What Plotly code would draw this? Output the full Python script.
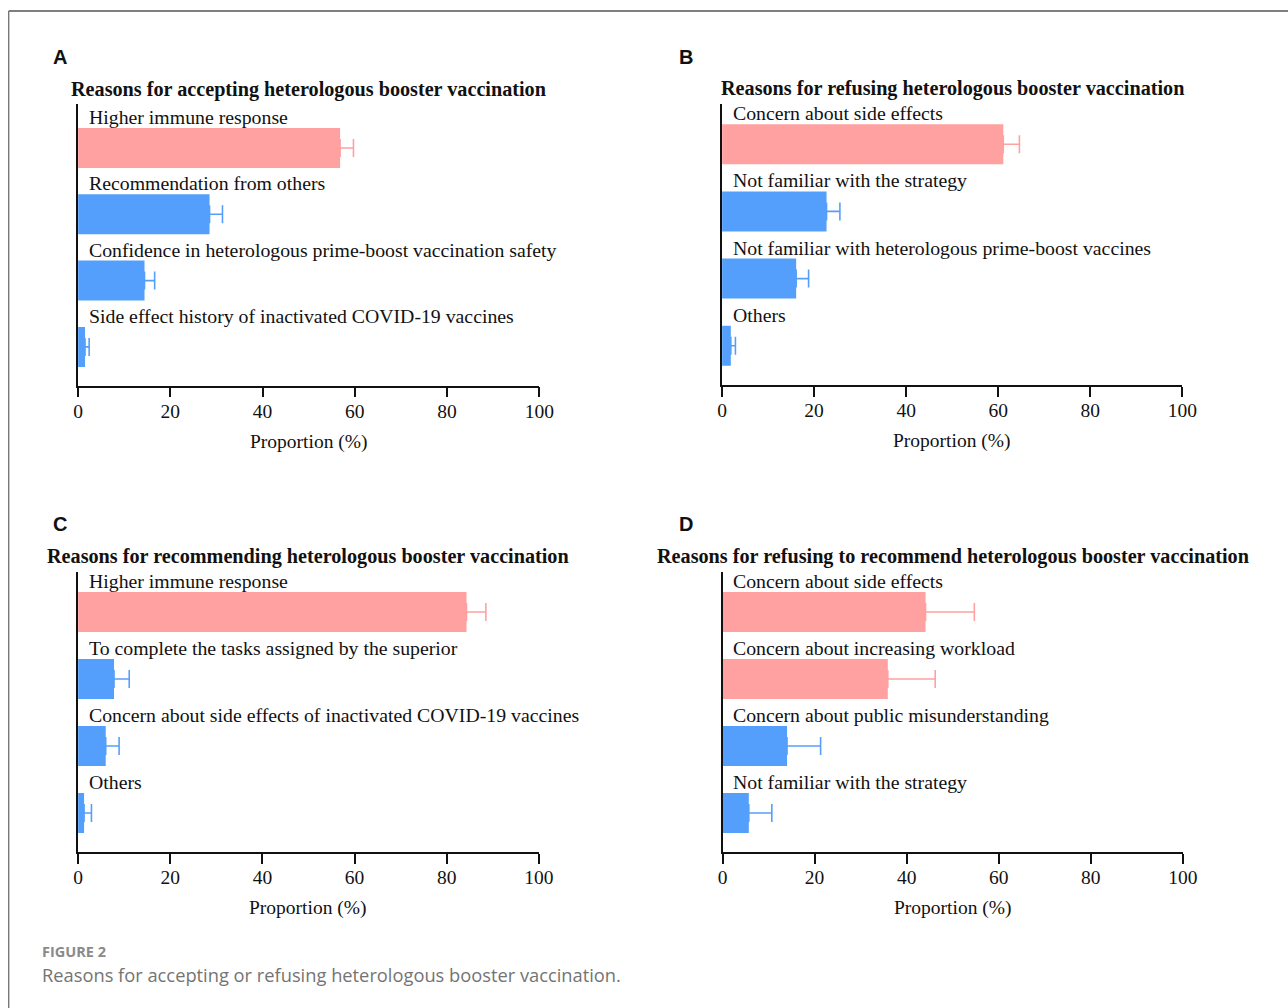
import plotly.graph_objects as go

# ---------------------------------------------------------------- data
a_labels = [
    "Higher immune response",
    "Recommendation from others",
    "Confidence in heterologous prime-boost vaccination safety",
    "Side effect history of inactivated COVID-19 vaccines",
]
a_values = [56.8, 28.5, 14.4, 1.5]
a_errors = [2.9, 2.8, 2.2, 0.9]

b_labels = [
    "Concern about side effects",
    "Not familiar with the strategy",
    "Not familiar with heterologous prime-boost vaccines",
    "Others",
]
b_values = [61.1, 22.7, 16.1, 1.9]
b_errors = [3.5, 2.9, 2.7, 1.0]

c_labels = [
    "Higher immune response",
    "To complete the tasks assigned by the superior",
    "Concern about side effects of inactivated COVID-19 vaccines",
    "Others",
]
c_values = [84.3, 7.8, 6.0, 1.3]
c_errors = [4.2, 3.3, 2.9, 1.6]

d_labels = [
    "Concern about side effects",
    "Concern about increasing workload",
    "Concern about public misunderstanding",
    "Not familiar with the strategy",
]
d_values = [44.1, 35.9, 14.0, 5.7]
d_errors = [10.6, 10.3, 7.3, 5.0]

panel_titles = [
    "Reasons for accepting heterologous booster vaccination",
    "Reasons for refusing heterologous booster vaccination",
    "Reasons for recommending heterologous booster vaccination",
    "Reasons for refusing to recommend heterologous booster vaccination",
]
panel_letters = ["A", "B", "C", "D"]
x_ticks = [0, 20, 40, 60, 80, 100]
x_title = "Proportion (%)"
caption_head = "FIGURE 2"
caption_text = "Reasons for accepting or refusing heterologous booster vaccination."

# ---------------------------------------------------------------- style
W, H = 1288, 1008
X_OFF, X_SPAN = 4.3, 1270.0   # horizontal pixel calibration of the paper
PINK = "#FFA1A1"
BLUE = "#559FFC"
SERIF = "Liberation Serif, Times New Roman, serif"
SANS = "Liberation Sans, Arial, sans-serif"
CAPTION_FONT = "Open Sans, Lato, sans-serif"


def px(x):
    return (x - X_OFF) / X_SPAN


def py(y):
    return 1 - y / H


# geometry of each panel in pixels: plot box, first bar centre, bar pitch,
# number of highlighted (pink) bars, title / letter rows
panels = [
    dict(labels=a_labels, values=a_values, errors=a_errors, n_hi=1,
         x0=77.5, x1=539.5, ytop=104, ybot=385.5, c0=148.0, step=66.3,
         title_y=89, letter=(59, 57)),
    dict(labels=b_labels, values=b_values, errors=b_errors, n_hi=1,
         x0=722.5, x1=1183.5, ytop=104, ybot=385.0, c0=144.2, step=67.2,
         title_y=88, letter=(686, 57)),
    dict(labels=c_labels, values=c_values, errors=c_errors, n_hi=1,
         x0=77.5, x1=539.0, ytop=572, ybot=852.0, c0=612.0, step=67.0,
         title_y=556, letter=(59, 524)),
    dict(labels=d_labels, values=d_values, errors=d_errors, n_hi=2,
         x0=723.0, x1=1184.0, ytop=572, ybot=852.0, c0=612.0, step=67.0,
         title_y=556, letter=(686, 524)),
]

fig = go.Figure()
annotations = []
shapes = []

for k, p in enumerate(panels, start=1):
    xa = "x" if k == 1 else f"x{k}"
    ya = "y" if k == 1 else f"y{k}"
    pos = list(range(len(p["values"])))
    bar_w = 40.0 / p["step"]

    groups = [
        (pos[:p["n_hi"]], PINK),
        (pos[p["n_hi"]:], BLUE),
    ]
    for idx, col in groups:
        if not idx:
            continue
        fig.add_trace(go.Bar(
            x=[p["values"][i] for i in idx],
            y=idx,
            orientation="h",
            width=bar_w,
            marker=dict(color=col, line=dict(width=0)),
            error_x=dict(
                type="data",
                symmetric=False,
                array=[p["errors"][i] for i in idx],
                arrayminus=[0] * len(idx),
                color=col,
                thickness=1.6,
                width=9,
            ),
            xaxis=xa,
            yaxis=ya,
            showlegend=False,
            hoverinfo="skip",
        ))

    # category labels sit above each bar
    for i, lab in zip(pos, p["labels"]):
        annotations.append(dict(
            x=0, y=i, xref=xa, yref=ya,
            text=lab, showarrow=False,
            xanchor="left", yanchor="middle",
            xshift=8.5, yshift=31,
            font=dict(family=SERIF, size=19.8, color="#111"),
        ))

    y_top = -(p["c0"] - p["ytop"]) / p["step"]
    y_bot = (p["ybot"] - p["c0"]) / p["step"]

    fig.update_layout({
        ("xaxis" if k == 1 else f"xaxis{k}"): dict(
            domain=[px(p["x0"]), px(p["x1"])],
            anchor=ya,
            range=[0, 100],
            tickvals=x_ticks,
            ticks="outside",
            ticklen=10,
            tickwidth=1.5,
            tickcolor="#111",
            ticklabelstandoff=-3,
            showline=True,
            linecolor="#111",
            linewidth=1.6,
            showgrid=False,
            zeroline=False,
            tickfont=dict(family=SERIF, size=19.5, color="#111"),
            fixedrange=True,
        ),
        ("yaxis" if k == 1 else f"yaxis{k}"): dict(
            domain=[py(p["ybot"]), py(p["ytop"])],
            anchor=xa,
            range=[y_bot, y_top],
            showticklabels=False,
            ticks="",
            showline=True,
            linecolor="#111",
            linewidth=1.6,
            showgrid=False,
            zeroline=False,
            fixedrange=True,
        ),
    })

    xc = (p["x0"] + p["x1"]) / 2
    annotations.append(dict(
        x=px(xc), y=py(p["title_y"]), xref="paper", yref="paper",
        text=f"<b>{panel_titles[k - 1]}</b>", showarrow=False,
        xanchor="center", yanchor="middle",
        font=dict(family=SERIF, size=20.2, color="#111"),
    ))
    annotations.append(dict(
        x=px(xc), y=py(p["ybot"] + 56), xref="paper", yref="paper",
        text=x_title, showarrow=False,
        xanchor="center", yanchor="middle",
        font=dict(family=SERIF, size=19.5, color="#111"),
    ))
    lx, ly = p["letter"]
    annotations.append(dict(
        x=px(lx), y=py(ly), xref="paper", yref="paper",
        text=f"<b>{panel_letters[k - 1]}</b>", showarrow=False,
        xanchor="center", yanchor="middle",
        font=dict(family=SANS, size=20, color="#111"),
    ))

# figure caption
annotations.append(dict(
    x=px(39), y=py(951), xref="paper", yref="paper",
    text=f"<b>{caption_head}</b>", showarrow=False,
    xanchor="left", yanchor="middle",
    font=dict(family=CAPTION_FONT, size=14.5, color="#8a8a8a"),
))
annotations.append(dict(
    x=px(39), y=py(974), xref="paper", yref="paper",
    text=caption_text, showarrow=False,
    xanchor="left", yanchor="middle",
    font=dict(family=CAPTION_FONT, size=18.3, color="#747474"),
))

# frame around the figure (top and left edges visible)
shapes.append(dict(type="line", xref="paper", yref="paper",
                   x0=px(8), x1=1.05, y0=py(11), y1=py(11),
                   line=dict(color="#555", width=1.6)))
shapes.append(dict(type="line", xref="paper", yref="paper",
                   x0=px(8), x1=px(8), y0=py(11), y1=-0.02,
                   line=dict(color="#777", width=1.4)))

fig.update_layout(
    width=W, height=H,
    margin=dict(l=0, r=0, t=0, b=0),
    paper_bgcolor="white",
    plot_bgcolor="white",
    barmode="overlay",
    annotations=annotations,
    shapes=shapes,
    showlegend=False,
)

# keep the page flush with the window so the figure is not pushed or scrolled
page_css = (
    "document.body.style.margin='0';"
    "document.body.style.padding='0';"
    "document.body.style.overflow='hidden';"
    "document.documentElement.style.overflow='hidden';"
)

fig.write_html("out.html", config={"displayModeBar": False, "responsive": False},
               post_script=page_css)
